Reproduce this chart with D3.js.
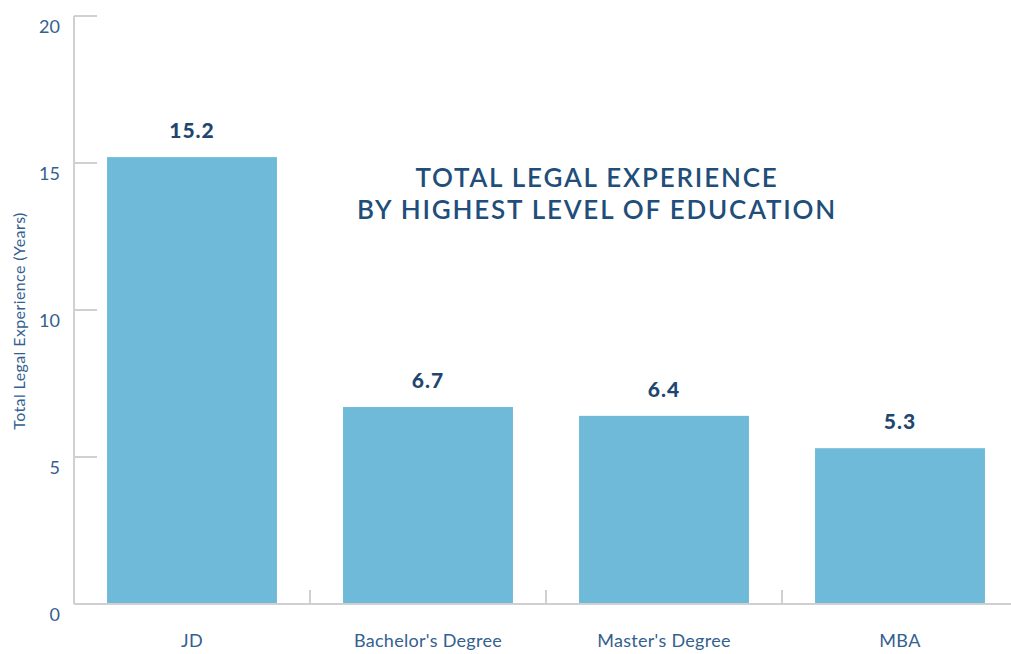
<!DOCTYPE html>
<html>
<head>
<meta charset="utf-8">
<script src="https://cdn.jsdelivr.net/npm/d3@7"></script>
<style>
  body { margin: 0; background: #fff; }
  text { font-family: Lato, "Noto Sans", sans-serif; }
</style>
</head>
<body>
<div id="chart"></div>
<script>
// data
var categories = ["JD", "Bachelor's Degree", "Master's Degree", "MBA"];
var values = [15.2, 6.7, 6.4, 5.3];
var yTicks = [0, 5, 10, 15, 20];

var width = 1011, height = 654;
var margin = {top: 16, right: -7, bottom: 50, left: 74};
var innerW = width - margin.left - margin.right;
var innerH = height - margin.top - margin.bottom;

var svg = d3.select("#chart").append("svg")
    .attr("width", width)
    .attr("height", height);

var g = svg.append("g")
    .attr("transform", "translate(" + margin.left + "," + margin.top + ")");

var x = d3.scaleBand().domain(categories).range([0, innerW]).padding(0);
var y = d3.scaleLinear().domain([0, 20]).range([innerH, 0]);

var barW = x.bandwidth() * 0.72;
var axisColor = "#d0d0d0";
var labelColor = "#33608f";

// y axis ticks (drawn inward)
g.selectAll(".ytick")
  .data(yTicks.filter(function(d) { return d > 0; }))
  .enter().append("line")
    .attr("x1", 0).attr("x2", 23)
    .attr("y1", function(d) { return y(d); })
    .attr("y2", function(d) { return y(d); })
    .attr("stroke", axisColor).attr("stroke-width", 2);

g.selectAll(".ylabel")
  .data(yTicks)
  .enter().append("text")
    .attr("x", -14)
    .attr("y", function(d) { return y(d) + 11; })
    .attr("dy", "0.35em")
    .attr("text-anchor", "end")
    .style("font-size", "18px")
    .style("fill", labelColor)
    .text(function(d) { return d; });

// bars
g.selectAll(".bar")
  .data(values)
  .enter().append("rect")
    .attr("x", function(d, i) { return x(categories[i]) + (x.bandwidth() - barW) / 2; })
    .attr("y", function(d) { return y(d); })
    .attr("width", barW)
    .attr("height", function(d) { return innerH - y(d); })
    .attr("fill", "#70bad9");

// value labels
g.selectAll(".val")
  .data(values)
  .enter().append("text")
    .attr("x", function(d, i) { return x(categories[i]) + x.bandwidth() / 2; })
    .attr("y", function(d) { return y(d) - 19; })
    .attr("text-anchor", "middle")
    .style("font-size", "21px")
    .style("font-weight", "900")
    .style("letter-spacing", "1px")
    .style("fill", "#1f4670")
    .text(function(d) { return d.toFixed(1); });

// axis lines
g.append("line")
    .attr("x1", 0).attr("x2", 0)
    .attr("y1", 0).attr("y2", innerH)
    .attr("stroke", axisColor).attr("stroke-width", 2);
g.append("line")
    .attr("x1", 0).attr("x2", 23)
    .attr("y1", 0).attr("y2", 0)
    .attr("stroke", axisColor).attr("stroke-width", 2);
g.append("line")
    .attr("x1", 0).attr("x2", innerW)
    .attr("y1", innerH).attr("y2", innerH)
    .attr("stroke", axisColor).attr("stroke-width", 2);

// x category separators
g.selectAll(".xtick")
  .data(categories.slice(1))
  .enter().append("line")
    .attr("x1", function(d) { return x(d); })
    .attr("x2", function(d) { return x(d); })
    .attr("y1", innerH - 14).attr("y2", innerH)
    .attr("stroke", axisColor).attr("stroke-width", 2);

g.selectAll(".xlabel")
  .data(categories)
  .enter().append("text")
    .attr("x", function(d) { return x(d) + x.bandwidth() / 2; })
    .attr("y", innerH + 37)
    .attr("dy", "0.35em")
    .attr("text-anchor", "middle")
    .style("font-size", "18px")
    .style("letter-spacing", "0.3px")
    .style("fill", labelColor)
    .text(function(d) { return d; });

// y axis title
svg.append("text")
    .attr("transform", "translate(19,321) rotate(-90)")
    .attr("dy", "0.35em")
    .attr("text-anchor", "middle")
    .style("font-size", "16px")
    .style("letter-spacing", "0.4px")
    .style("fill", labelColor)
    .text("Total Legal Experience (Years)");

// chart title
var title = svg.append("text")
    .attr("text-anchor", "middle")
    .style("font-size", "26px")
    .style("font-weight", "600")
    .style("letter-spacing", "1.8px")
    .style("fill", "#1f4e7a");
title.append("tspan").attr("x", 597).attr("y", 187).text("TOTAL LEGAL EXPERIENCE");
title.append("tspan").attr("x", 597).attr("y", 219).text("BY HIGHEST LEVEL OF EDUCATION");
</script>
</body>
</html>
